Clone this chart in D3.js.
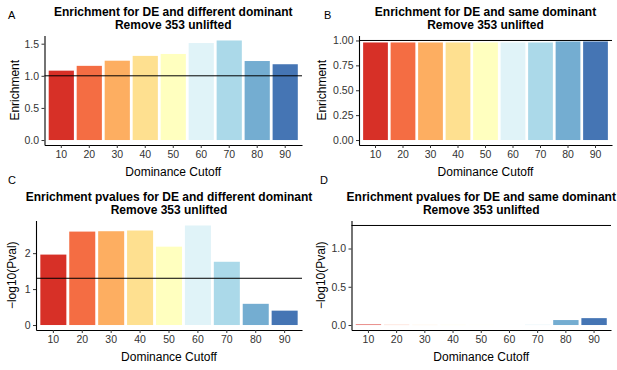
<!DOCTYPE html>
<html lang="en">
<head>
<meta charset="UTF-8">
<title>enrichment panels</title>
<style>
	body { margin: 0; background: #fff; }
	text { font-family: "Liberation Sans", Arial, Helvetica, sans-serif; }
</style>
</head>
<body>
<svg id="cont" width="617" height="370"></svg>
<script src="https://cdn.jsdelivr.net/npm/d3@7"></script>
<script>
	// data
	let cutoffs = [10, 20, 30, 40, 50, 60, 70, 80, 90];
	let enrichDiff = [1.08, 1.155, 1.235, 1.31, 1.34, 1.51, 1.55, 1.23, 1.18];
	let enrichSame = [0.98, 0.98, 0.98, 0.98, 0.98, 0.98, 0.98, 0.99, 0.99];
	let pvalDiff = [1.96, 2.60, 2.61, 2.63, 2.18, 2.77, 1.76, 0.59, 0.40];
	let pvalSame = [0.007, 0.002, 0.001, 0.001, 0.001, 0.001, 0.002, 0.065, 0.09];
	let palette = ["#d73027", "#f46d43", "#fdae61", "#fee090", "#ffffbf", "#e0f3f8", "#abd9e9", "#74add1", "#4575b4"];
	let ticksA = [0, 0.5, 1, 1.5];
	let ticksB = [0, 0.25, 0.5, 0.75, 1];
	let ticksC = [0, 1, 2];
	let ticksD = [0, 0.5, 1];

	let svg = d3.select("#cont");

	let panels = [
		{ tag: "A", tagX: 8, tagY: 19, values: enrichDiff, ticks: ticksA, fmt: d3.format(".1f"), hline: 1,
		  title: ["Enrichment for DE and different dominant", "Remove 353 unlifted"], ylab: "Enrichment",
		  left: 44.5, right: 302, top: 35.5, bottom: 145, ylabX: 19 },
		{ tag: "B", tagX: 324, tagY: 19, values: enrichSame, ticks: ticksB, fmt: d3.format(".2f"), hline: 1,
		  title: ["Enrichment for DE and same dominant", "Remove 353 unlifted"], ylab: "Enrichment",
		  left: 359, right: 612, top: 35.5, bottom: 145, ylabX: 326 },
		{ tag: "C", tagX: 8, tagY: 183.5, values: pvalDiff, ticks: ticksC, fmt: d3.format("d"), hline: -Math.log10(0.05),
		  title: ["Enrichment pvalues for DE and different dominant", "Remove 353 unlifted"], ylab: "\u2212log10(Pval)",
		  left: 36, right: 302, top: 220.5, bottom: 330, ylabX: 16 },
		{ tag: "D", tagX: 320, tagY: 183.5, values: pvalSame, ticks: ticksD, fmt: d3.format(".1f"), hline: -Math.log10(0.05),
		  title: ["Enrichment pvalues for DE and same dominant", "Remove 353 unlifted"], ylab: "\u2212log10(Pval)",
		  left: 351.5, right: 611, top: 220.5, bottom: 330, ylabX: 325 }
	];

	panels.forEach(drawPanel);

	function drawPanel(p)
	{
		let rows = cutoffs.map((c, i) => ({ cut: c, val: p.values[i], col: palette[i] }));
		let max = Math.max(d3.max(p.values), p.hline);

		let x = d3.scaleBand()
			.domain(cutoffs)
			.range([p.left, p.right])
			.paddingInner(0.1)
			.paddingOuter(0.15);
		let y = d3.scaleLinear()
			.domain([-0.05 * max, max * 1.05])
			.range([p.bottom, p.top]);

		let g = svg.append("g");

		g.selectAll("rect")
			.data(rows)
			.enter()
			.append("rect")
			.attr("x", d => x(d.cut))
			.attr("width", x.bandwidth())
			.attr("y", d => y(d.val))
			.attr("height", d => y(0) - y(d.val))
			.attr("fill", d => d.col);

		g.append("line")
			.attr("x1", p.left).attr("x2", p.right)
			.attr("y1", y(p.hline)).attr("y2", y(p.hline))
			.attr("stroke", "#000").attr("stroke-width", 1);

		let xaxis = d3.axisBottom(x).tickSize(3).tickSizeOuter(0).tickPadding(3);
		let gx = g.append("g")
			.attr("transform", `translate(0,${p.bottom})`)
			.call(xaxis);
		let yaxis = d3.axisLeft(y).tickValues(p.ticks).tickFormat(p.fmt).tickSize(3).tickSizeOuter(0).tickPadding(2.5);
		let gy = g.append("g")
			.attr("transform", `translate(${p.left},0)`)
			.call(yaxis);

		[gx, gy].forEach(a => {
			a.select(".domain").attr("stroke", "#000").attr("stroke-width", 1.1);
			a.selectAll(".tick line").attr("stroke", "#333");
			a.selectAll(".tick text").attr("fill", "#333").style("font-size", "10.5px")
				.style("font-family", '"Liberation Sans", Arial, sans-serif');
		});

		let cx = (p.left + p.right) / 2;
		g.append("text").attr("x", cx).attr("y", p.top - 19.5)
			.attr("text-anchor", "middle").style("font-size", "12px").style("font-weight", "bold")
			.text(p.title[0]);
		g.append("text").attr("x", cx).attr("y", p.top - 6.8)
			.attr("text-anchor", "middle").style("font-size", "12px").style("font-weight", "bold")
			.text(p.title[1]);

		g.append("text").attr("x", cx).attr("y", p.bottom + 31)
			.attr("text-anchor", "middle").style("font-size", "12px")
			.text("Dominance Cutoff");

		g.append("text")
			.attr("transform", `translate(${p.ylabX},${(p.top + p.bottom) / 2}) rotate(-90)`)
			.attr("text-anchor", "middle").style("font-size", "12px")
			.text(p.ylab);

		g.append("text").attr("x", p.tagX).attr("y", p.tagY)
			.style("font-size", "11px")
			.text(p.tag);
	}
</script>
</body>
</html>
